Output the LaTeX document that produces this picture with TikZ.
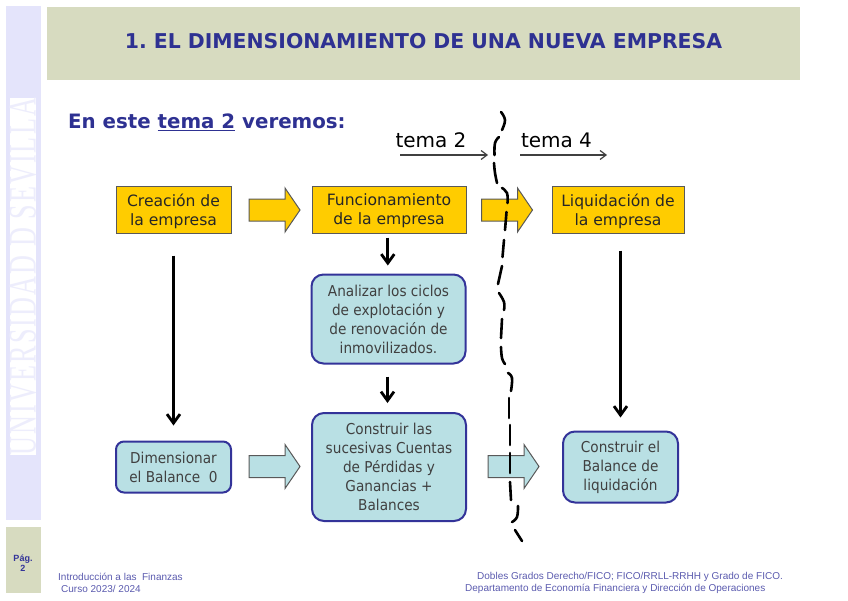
\documentclass[tikz,border=0pt]{standalone}
\usepackage{fontspec}
\setmainfont{DejaVu Sans}
\newfontfamily\cajafont[FakeStretch=0.91]{DejaVu Sans}
\newfontfamily\piefont{Liberation Sans}
\newfontfamily\sevillafont[LetterSpace=8]{Liberation Serif}
\usetikzlibrary{arrows.meta}
\definecolor{azuloscuro}{HTML}{2E3192}
\definecolor{azulborde}{HTML}{333399}
\definecolor{azulpie}{HTML}{5A5AAE}
\definecolor{verdefondo}{HTML}{D7DBC0}
\definecolor{lavanda}{HTML}{E4E4FB}
\definecolor{amarillo}{HTML}{FFCC00}
\definecolor{celeste}{HTML}{B9E0E4}
\tikzset{
    x=1pt,y=-1pt,
    cajaamarilla/.style={draw=black!65,line width=1pt,fill=amarillo,align=center,inner sep=0pt,text depth=0pt,font=\fontsize{15.6}{19}\selectfont,text=black!85},
    cajaceleste/.style={draw=azulborde,line width=2pt,fill=celeste,rounded corners=12pt,align=center,inner sep=0pt,font=\cajafont\fontsize{15}{19}\selectfont,text=black!75},
    flechabloque/.pic={\draw[pic actions] (0,-11) -- (36,-11) -- (36,-22) -- (51,0) -- (36,22) -- (36,11) -- (0,11) -- cycle;},
    flechanegra/.style={-{Straight Barb[length=9pt,width=13pt]},line width=2.8pt,black},
    flechafina/.style={-{Straight Barb[length=6pt,width=9pt]},line width=1.2pt,black!75},
    corte/.style={line width=2.6pt,line cap=round,smooth,tension=0.7},
    pie/.style={inner sep=0pt,anchor=west,text=azulpie,font=\piefont\fontsize{10}{11}\selectfont}
}
\begin{document}
\frenchspacing
\begin{tikzpicture}
        \useasboundingbox (0,0) rectangle (848,600);
        \fill [verdefondo] (47,7) rectangle (800,80);
        \fill [lavanda] (6,6) rectangle (41,520);
        \fill [white] (10,98) rectangle (36,455);
        \fill [verdefondo] (6,527) rectangle (41,593);
        \node (titulo) at (423.5,41) [text=azuloscuro,font=\bfseries\fontsize{20.4}{22}\selectfont] {1. EL DIMENSIONAMIENTO DE UNA NUEVA EMPRESA};
        \node (sevilla) at (23,276.5) [rotate=90,text=lavanda!65,inner sep=0pt] {\resizebox{357pt}{26pt}{\sevillafont UNIVERSIDAD D SEVILLA}};
        \node (pagina) at (23,563) [align=center,text=azulborde,inner sep=0pt,font=\piefont\bfseries\fontsize{9}{10}\selectfont] {Pág.\\2};
        \node (veremos) at (68,122) [anchor=west,inner sep=0pt,text=azuloscuro,font=\bfseries\fontsize{19.8}{22}\selectfont] {En este \underline{tema 2} veremos:};
        \node (tema2) at (431,140) [inner sep=0pt,font=\fontsize{20}{24}\selectfont] {tema 2};
        \node (tema4) at (556.5,140) [inner sep=0pt,font=\fontsize{20}{24}\selectfont] {tema 4};
        \coordinate (t2ini) at (400,155);
        \coordinate (t2fin) at (488,155);
        \coordinate (t4ini) at (520,155);
        \coordinate (t4fin) at (607,155);
        \draw [flechafina] (t2ini) -- (t2fin);
        \draw [flechafina] (t4ini) -- (t4fin);
        \node (creacion) at (173.5,209.5) [cajaamarilla,minimum width=115pt,minimum height=47pt] {Creación de\\la empresa};
        \node (funcionamiento) at (389,209.5) [cajaamarilla,minimum width=154pt,minimum height=47pt] {Funcionamiento\\de la empresa};
        \node (liquidacion) at (618,209.5) [cajaamarilla,minimum width=132pt,minimum height=47pt] {Liquidación de\\la empresa};
        \node (analizar) at (388.5,319) [cajaceleste,minimum width=154pt,minimum height=89pt] {Analizar los ciclos\\de explotación y\\de renovación de\\inmovilizados.};
        \node (dimensionar) at (173.5,467) [cajaceleste,rounded corners=8pt,minimum width=115pt,minimum height=51pt] {Dimensionar\\el Balance~~0};
        \node (construir) at (389,467) [cajaceleste,minimum width=154pt,minimum height=108pt] {Construir las\\sucesivas Cuentas\\de Pérdidas y\\Ganancias +\\Balances};
        \node (balance) at (620.5,467) [cajaceleste,minimum width=115pt,minimum height=71pt] {Construir el\\Balance de\\liquidación};
        \pic [draw=black!65,line width=1pt,fill=amarillo] at (249,210) {flechabloque};
        \pic [draw=black!65,line width=1pt,fill=amarillo] at (481.5,210) {flechabloque};
        \pic [draw=black!65,line width=1pt,fill=celeste] at (249,466.5) {flechabloque};
        \pic [draw=black!65,line width=1pt,fill=celeste] at (488,466.5) {flechabloque};
        \draw [flechanegra,shorten <=22pt,shorten >=15pt] (creacion.south) -- (dimensionar.north);
        \draw [flechanegra,shorten <=4pt,shorten >=8pt] ([xshift=-1.2pt]funcionamiento.south) -- ([xshift=-1.2pt]funcionamiento.south |- analizar.north);
        \draw [flechanegra,shorten <=12pt,shorten >=9pt] ([xshift=-1pt]analizar.south) -- ([xshift=-1pt]analizar.south |- construir.north);
        \draw [flechanegra,shorten <=17pt,shorten >=13pt] (liquidacion.south -| balance.north) -- (balance.north);
        \foreach \tramo in {
            {(501,112) (505,120) (502,130)},
            {(499,137) (495,143) (494.5,155)},
            {(494,163) (495,173) (497,183)},
            {(502,188) (507,193) (507.5,203)},
            {(506.5,212) (505,230)},
            {(504,240) (502.5,257)},
            {(502,266) (498,284)},
            {(499,293) (504,302) (504,310)},
            {(502,319) (501,338)},
            {(501,347) (502,358) (505,364)},
            {(508,373) (512,378) (511,391)},
            {(509,398) (509,418)},
            {(510,425) (510,445)},
            {(510,453) (510,473)},
            {(510,482) (511,500)},
            {(518,506) (517,517) (512,522)},
            {(515,530) (522,541)}}
            \draw [corte] plot coordinates \tramo;
        \node (curso) at (58,577) [pie] {Introducción a las~~Finanzas};
        \node (curso2) at (61,589) [pie] {Curso 2023/ 2024};
        \node (grados) at (477,577) [pie] {Dobles Grados Derecho/FICO; FICO/RRLL-RRHH y Grado de FICO.};
        \node (depto) at (465,589) [pie] {Departamento de Economía Financiera y Dirección de Operaciones};
    \end{tikzpicture}
\end{document}
